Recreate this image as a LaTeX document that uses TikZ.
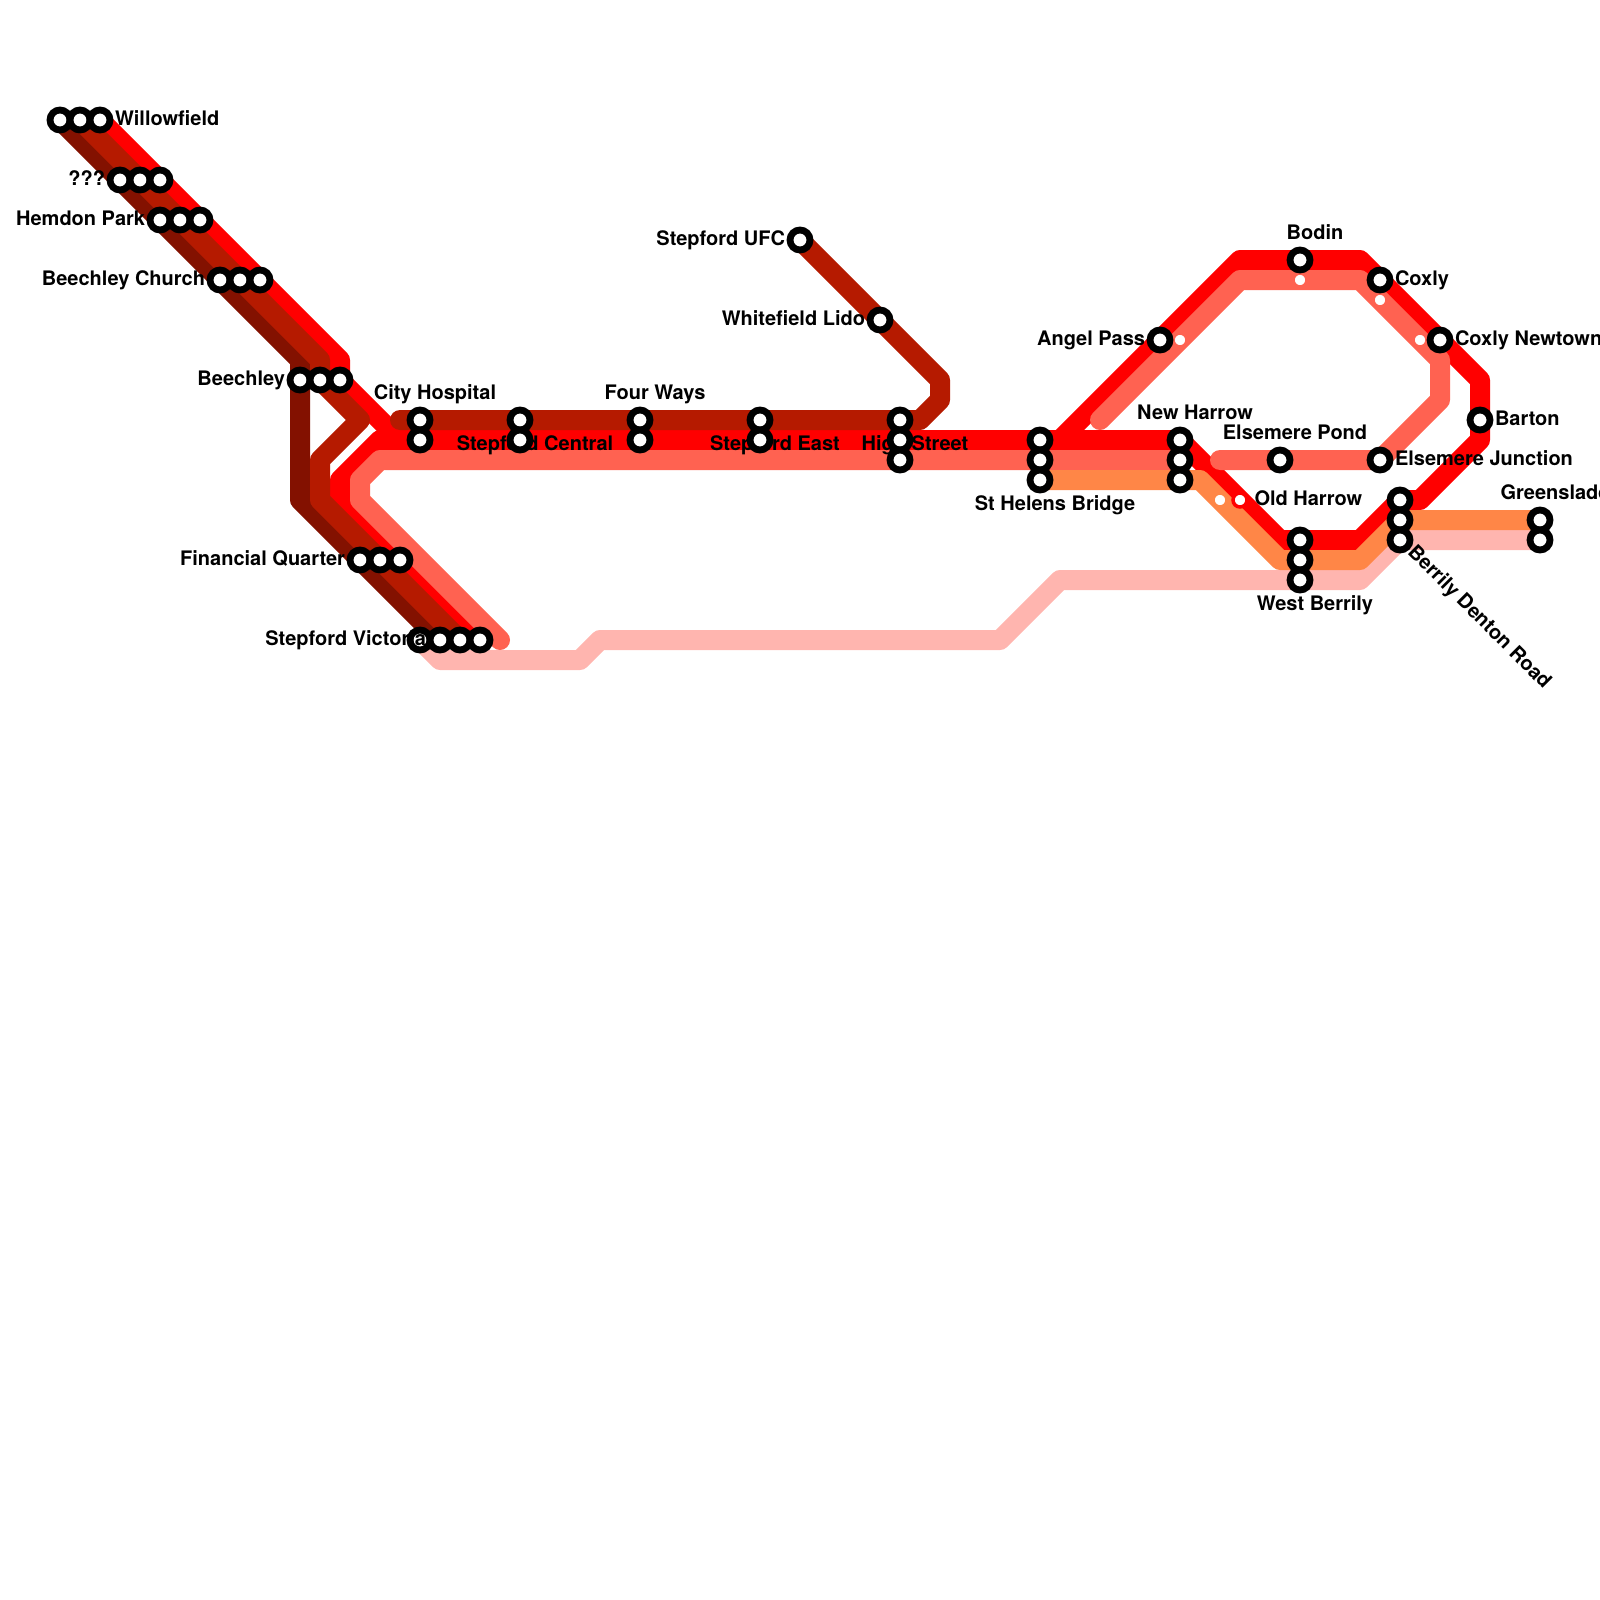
\documentclass[tikz,border=0pt]{standalone}
\usepackage{fontspec}
\setmainfont{TeX Gyre Heros}
\usetikzlibrary{positioning,backgrounds}
\definecolor{lineRed}{HTML}{FF0000}
\definecolor{lineMaroon}{HTML}{B51A00}
\definecolor{lineDark}{HTML}{831100}
\definecolor{lineSalmon}{HTML}{FF6251}
\definecolor{lineOrange}{HTML}{FF8647}
\definecolor{linePink}{HTML}{FFB5AF}
\tikzset{
  stn/.style={circle,draw=black,fill=white,line width=6.8pt,minimum size=20pt,
              inner sep=0pt,outer sep=0pt},
  dotMark/.style={circle,draw=#1,fill=white,line width=3.5pt,minimum size=14pt,
                  inner sep=0pt,outer sep=0pt},
  routeLine/.style={line width=20pt,line join=round,line cap=round,draw=#1},
  lbl/.style={inner sep=0pt,outer sep=0pt,text height=14.4pt,text depth=0pt,
              font=\fontsize{20}{24}\selectfont\bfseries},
  lblR/.style={lbl,yshift=2.2pt},
  lblT/.style={lbl,xshift=15pt},
}
\begin{document}
\begin{tikzpicture}[x=1pt,y=-1pt,node distance=5pt]
  \useasboundingbox (0,0) rectangle (1600,1600);
  \foreach \nm/\px/\py in {wf1/60/120,wf2/80/120,wf3/100/120,qm1/120/180,qm2/140/180,qm3/160/180,
    hp1/160/220,hp2/180/220,hp3/200/220,bc1/220/280,bc2/240/280,bc3/260/280,
    bl1/300/380,bl2/320/380,bl3/340/380,fq1/360/560,fq2/380/560,fq3/400/560,
    sv1/420/640,sv2/440/640,sv3/460/640,sv4/480/640,
    ch1/420/420,ch2/420/440,sc1/520/420,sc2/520/440,fw1/640/420,fw2/640/440,
    se1/760/420,se2/760/440,hs1/900/420,hs2/900/440,hs3/900/460,
    sh1/1040/440,sh2/1040/460,sh3/1040/480,nh1/1180/440,nh2/1180/460,nh3/1180/480,
    wb1/1300/540,wb2/1300/560,wb3/1300/580,bd1/1400/500,bd2/1400/520,bd3/1400/540,
    gs1/1540/520,gs2/1540/540,ufc/800/240,wl/880/320,ap/1160/340,bo/1300/260,
    cx/1380/280,cn/1440/340,ba/1480/420,ep/1280/460,ej/1380/460}{
    \node[stn](\nm) at (\px,\py){};
  }
  \coordinate (maroonEnd) at (400,420);
  \coordinate (salmonEnd) at (500,640);
  \coordinate (loopEnd) at (1100,420);
  \coordinate (pondEnd) at (1220,460);
  \coordinate (redJoin) at (400,440);
  \coordinate (redFork) at (1060,440);
  \begin{scope}[on background layer]
    \draw[routeLine=linePink](sv1.center)--(440,660)--(580,660)--(600,640)--(1000,640)--(1060,580)
      --(1360,580)--(bd3.center)--(gs2.center);
    \draw[routeLine=lineDark](wf1.center)--(300,360)--(300,500)--(sv2.center);
    \draw[routeLine=lineRed](wf3.center)--(340,360)--(340,380)--(redJoin)--(nh1.center)
      --(1280,540)--(1360,540)--(bd1.center)--(1420,500)--(1480,440)--(1480,380)--(1360,260)
      --(1240,260)--(redFork);
    \draw[routeLine=lineRed](redJoin)--(380,440)--(340,480)--(340,500)--(sv4.center);
    \draw[routeLine=lineMaroon](wf2.center)--(320,360)--(320,380)--(360,420)--(320,460)--(320,500)
      --(sv3.center);
    \draw[routeLine=lineMaroon](maroonEnd)--(920,420)--(940,400)--(940,380)--(ufc.center);
    \draw[routeLine=lineSalmon](salmonEnd)--(360,500)--(360,480)--(380,460)--(nh2.center);
    \draw[routeLine=lineSalmon](loopEnd)--(1240,280)--(1360,280)--(1440,360)--(1440,400)
      --(ej.center)--(pondEnd);
    \draw[routeLine=lineOrange](sh3.center)--(1200,480)--(1280,560)--(1360,560)--(bd2.center)
      --(gs1.center);
    \foreach \nm/\px/\py/\cc in {dotA/1180/340/lineSalmon,dotB/1300/280/lineSalmon,
      dotC/1380/300/lineSalmon,dotD/1420/340/lineSalmon,dotE/1220/500/lineOrange,
      dotF/1240/500/lineRed}{
      \node[dotMark=\cc](\nm) at (\px,\py){};
    }
    \node[lblR,right=of wf3](tWf){Willowfield};
    \node[lblR,left=of qm1](tQm){???};
    \node[lblR,left=of hp1](tHp){Hemdon Park};
    \node[lblR,left=of bc1](tBc){Beechley Church};
    \node[lblR,left=of bl1](tBl){Beechley};
    \node[lblR,left=of fq1](tFq){Financial Quarter};
    \node[lblR,left=of ufc](tUfc){Stepford UFC};
    \node[lblR,left=of wl](tWl){Whitefield Lido};
    \node[lblR,left=of ap](tAp){Angel Pass};
    \node[lblR,right=of cx](tCx){Coxly};
    \node[lblR,right=of cn](tCn){Coxly Newtown};
    \node[lblR,right=of ba](tBa){Barton};
    \node[lblR,right=of ej](tEj){Elsemere Junction};
    \node[lblR,right=of dotF,xshift=2.5pt](tOh){Old Harrow};
    \node[lblT,above=11pt of ch1](tCh){City Hospital};
    \node[lblT,above=11pt of fw1](tFw){Four Ways};
    \node[lblT,above=11pt of nh1](tNh){New Harrow};
    \node[lblT,above=11pt of ep](tEp){Elsemere Pond};
    \node[lblT,above=11pt of bo](tBo){Bodin};
    \node[lblT,above=11pt of gs1](tGs){Greenslade};
    \node[lblT,below=5.6pt of sc1](tSc){Stepford Central};
    \node[lblT,below=5.6pt of se1](tSe){Stepford East};
    \node[lblT,below=5.6pt of hs1](tHs){High Street};
    \node[lblT,below=5.6pt of sh3](tSh){St Helens Bridge};
    \node[lblT,below=5.6pt of wb3](tWb){West Berrily};
  \end{scope}
  \node[lblR,left=of sv1,xshift=21pt](tSv){Stepford Victoria};
  \node[lbl,rotate=-45,anchor=west](tBd) at ([shift={(12,8)}]bd3.center){Berrily Denton Road};
\end{tikzpicture}
\end{document}
